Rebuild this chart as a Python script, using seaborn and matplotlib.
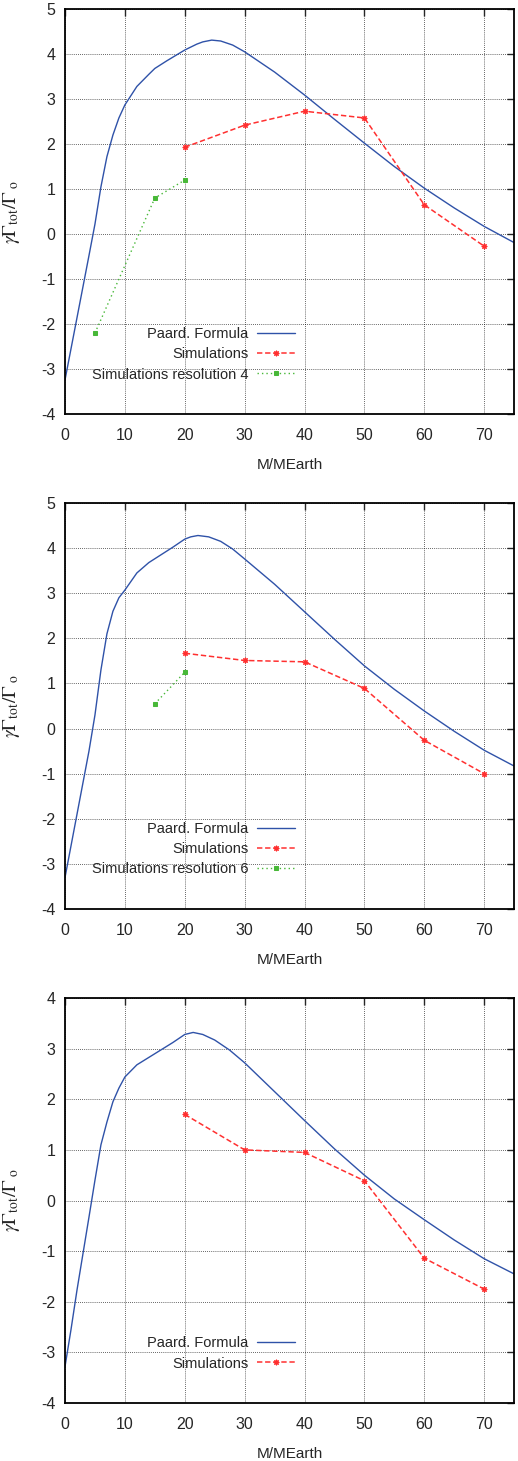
import numpy as np
import pandas as pd
import matplotlib
matplotlib.use("Agg")
import matplotlib.pyplot as plt
import seaborn as sns

# Paard. formula curves
paard_x1 = [0, 1, 2, 3, 4, 5, 6, 7, 8, 9, 10, 12, 14, 15, 17, 20, 22, 23, 24.5, 26, 28,
            30, 35, 40, 45, 50, 55, 60, 65, 70, 75]
paard_y1 = [-3.24, -2.55, -1.86, -1.17, -0.48, 0.22, 1.05, 1.72, 2.2, 2.58, 2.87, 3.28,
            3.55, 3.68, 3.85, 4.09, 4.22, 4.27, 4.31, 4.29, 4.2, 4.05, 3.6, 3.09, 2.55,
            2.02, 1.5, 1.02, 0.58, 0.17, -0.19]
paard_x2 = [0, 1, 2, 3, 4, 5, 6, 7, 8, 9, 10, 12, 14, 16, 18, 20, 21, 22.2, 24, 26, 28,
            30, 35, 40, 45, 50, 55, 60, 65, 70, 75]
paard_y2 = [-3.3, -2.6, -1.9, -1.2, -0.5, 0.3, 1.3, 2.1, 2.6, 2.9, 3.07, 3.45, 3.68,
            3.85, 4.02, 4.2, 4.25, 4.28, 4.25, 4.15, 3.98, 3.76, 3.2, 2.59, 1.98, 1.39,
            0.87, 0.39, -0.06, -0.48, -0.83]
paard_x3 = [0, 1, 2, 3, 4, 5, 6, 7, 8, 9, 10, 12, 15, 18, 20, 21.4, 23, 25, 27.5, 30,
            35, 40, 45, 50, 55, 60, 65, 70, 75]
paard_y3 = [-3.28, -2.55, -1.77, -1.05, -0.33, 0.4, 1.1, 1.55, 1.95, 2.22, 2.44, 2.68,
            2.9, 3.12, 3.28, 3.32, 3.28, 3.17, 2.97, 2.72, 2.15, 1.58, 1.02, 0.5, 0.03,
            -0.38, -0.78, -1.15, -1.45]

# simulations
sim_x = [20, 30, 40, 50, 60, 70]
sim_y1 = [1.93, 2.42, 2.73, 2.58, 0.65, -0.27]
sim_y2 = [1.67, 1.51, 1.48, 0.89, -0.26, -1.0]
sim_y3 = [1.70, 1.0, 0.95, 0.39, -1.14, -1.75]

# higher resolution runs
res4_x = [5, 15, 20]
res4_y = [-2.2, 0.8, 1.2]
res6_x = [15, 20]
res6_y = [0.55, 1.25]

sns.set_style("white")
plt.rcParams["font.family"] = ["Liberation Sans", "DejaVu Sans"]
plt.rcParams["axes.unicode_minus"] = False

blue = "#2f52a8"
red = "#ff3030"
green = "#48b838"
fs_tick = 11.5
fs_text = 10.5

fig = plt.figure(figsize=(5.18, 14.61), dpi=100)

panels = [
    dict(rect=[0.1255, 0.7166, 0.867, 0.2772], px=paard_x1, py=paard_y1, sy=sim_y1,
         gx=res4_x, gy=res4_y, glabel="Simulations resolution 4", ylim=(-4, 5)),
    dict(rect=[0.1255, 0.3778, 0.867, 0.2779], px=paard_x2, py=paard_y2, sy=sim_y2,
         gx=res6_x, gy=res6_y, glabel="Simulations resolution 6", ylim=(-4, 5)),
    dict(rect=[0.1255, 0.0397, 0.867, 0.2772], px=paard_x3, py=paard_y3, sy=sim_y3,
         gx=None, gy=None, glabel=None, ylim=(-4, 4)),
]

for p in panels:
    ax = fig.add_axes(p["rect"])
    sns.lineplot(x=p["px"], y=p["py"], ax=ax, color=blue, linewidth=1.0,
                 label="Paard. Formula")
    sns.lineplot(x=sim_x, y=p["sy"], ax=ax, color=red, linewidth=1.1,
                 marker=(8, 2, 0), markersize=4, markeredgecolor=red,
                 markeredgewidth=0.8, label="Simulations")
    ax.lines[-1].set_dashes((3.5, 1.8))
    if p["gx"] is not None:
        sns.lineplot(x=p["gx"], y=p["gy"], ax=ax, color=green, linewidth=1.0,
                     marker="s", markersize=3, markeredgecolor=green,
                     markerfacecolor=green, label=p["glabel"])
        ax.lines[-1].set_dashes((1.0, 2.2))

    ax.set_xlim(0, 75)
    ax.set_ylim(*p["ylim"])
    ax.set_xticks(np.arange(0, 71, 10))
    ax.set_yticks(np.arange(p["ylim"][0], p["ylim"][1] + 1, 1))
    ax.grid(True, color="black", linestyle=(0, (1, 1.5)), linewidth=0.6, alpha=0.8)
    ax.tick_params(direction="in", top=True, right=True, length=5, width=1,
                   labelsize=fs_tick)
    ax.tick_params(axis="x", pad=10)
    ax.tick_params(axis="y", pad=7)
    for s in ax.spines.values():
        s.set_color("black")
        s.set_linewidth(1.3)
    ax.set_xlabel("M/MEarth", fontsize=fs_text + 0.5, labelpad=11)
    ax.set_ylabel(r"$\gamma\Gamma_{\rm tot}/\Gamma_{\rm \ o}$", fontsize=14,
                  math_fontfamily="stix")
    ax.yaxis.set_label_coords(-0.095, 0.5)

    ax.legend(loc="lower right", bbox_to_anchor=(0.535, 0.055), frameon=False,
              markerfirst=False, handlelength=2.6, handletextpad=0.6,
              labelspacing=0.42, borderpad=0.2, fontsize=fs_text)

fig.savefig("out.png", dpi=100)
